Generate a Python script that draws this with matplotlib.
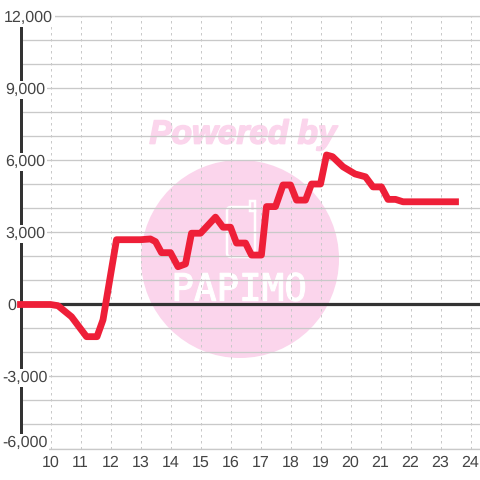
import matplotlib
matplotlib.use("Agg")
import matplotlib.pyplot as plt
import matplotlib.patheffects as pe
from matplotlib.patches import Circle, FancyBboxPatch, Rectangle

# Values (hour of day, balance)
hours = [9, 10, 10.25, 10.7, 11.2, 11.55, 11.75, 12.2, 12.5, 13, 13.33, 13.5, 13.7, 14,
         14.25, 14.5, 14.7, 15, 15.5, 15.75, 16, 16.2, 16.5, 16.7, 17.03, 17.2, 17.5,
         17.75, 18, 18.2, 18.5, 18.7, 19, 19.2, 19.4, 19.75, 20.15, 20.5, 20.75, 21.03,
         21.25, 21.5, 21.75, 23.5]
balance = [0, 0, -50, -510, -1340, -1340, -640, 2700, 2700, 2700, 2730, 2620, 2160, 2160,
           1575, 1690, 2970, 2970, 3640, 3220, 3220, 2560, 2560, 2060, 2060, 4080, 4080,
           4980, 4980, 4350, 4350, 5020, 5020, 6230, 6160, 5740, 5440, 5320, 4900, 4900,
           4380, 4380, 4280, 4280]

x_ticks = list(range(10, 25))
y_grid = list(range(-6000, 12001, 1000))
y_labels = [12000, 9000, 6000, 3000, 0, -3000, -6000]
# left edge of each y label in px, y offset in px (bottom label gets pushed up)
y_label_left = {12000: 4, 9000: 5, 6000: 5, 3000: 5, 0: 7, -3000: 2, -6000: 2}
y_label_shift = {-6000: 7}

FONT = "Liberation Sans"
TEXT = "#444444"
DARK = "#333333"
GRID = "#c9c9c9"
PINK = "#fbd5ec"
RED = "#ee1f38"
PX = 72 / 100  # one pixel in points at dpi 100

plt.rcParams["text.hinting"] = "no_hinting"
plt.rcParams["text.hinting_factor"] = 1

fig = plt.figure(figsize=(4.8, 4.8), dpi=100, facecolor="white")

# Watermark sits under everything, laid out in pixel coordinates
bg = fig.add_axes([0, 0, 1, 1])
bg.set_xlim(0, 480)
bg.set_ylim(480, 0)
bg.axis("off")
bg.add_patch(Circle((240, 259), 99, color=PINK, lw=0))
bg.text(242, 135, "Powered by", color=PINK, fontsize=24, fontweight="bold",
        fontstyle="italic", family=FONT, ha="center", va="center",
        path_effects=[pe.withStroke(linewidth=1.2, foreground=PINK)])
bg.add_patch(FancyBboxPatch((227, 207), 28, 50, boxstyle="round,pad=0,rounding_size=4",
                            fc="none", ec="white", lw=2.5 * PX))
bg.add_patch(Rectangle((250, 201), 5, 10, fc=PINK, ec="white", lw=2.5 * PX))
bg.text(240, 290, "PAPIMO", color="white", fontsize=27, family="DejaVu Sans Mono",
        ha="center", va="center",
        path_effects=[pe.withStroke(linewidth=0.8, foreground="white")])

# Plot region: x=10 at px 50.5, 30 px per hour; 3000 = 72 px
ax = fig.add_axes([20.5 / 480, 1 - 448.5 / 480, 459.5 / 480, 432 / 480])
ax.patch.set_alpha(0)
ax.set_xlim(9, 10 + (480 - 50.5) / 30)
ax.set_ylim(-6000, 12000)

ax.set_xticks(x_ticks)
ax.set_yticks(y_grid)
ax.grid(True, axis="y", color=GRID, linewidth=1.3 * PX, zorder=1)
ax.grid(True, axis="x", color=GRID, linewidth=1 * PX, linestyle=(0, (2.5, 3.5)), zorder=1)
ax.set_axisbelow(True)
ax.tick_params(length=0, labelleft=False, labelbottom=False)

for s in ["top", "right", "bottom"]:
    ax.spines[s].set_visible(False)
ax.spines["left"].set_linewidth(3 * PX)
ax.spines["left"].set_color(DARK)
ax.spines["left"].set_bounds(-5437, 11687)
ax.spines["left"].set_zorder(2)

# edge gridlines get clipped at the axes edge, redraw them
ax.axhline(-6000, color=GRID, linewidth=1.3 * PX, zorder=1, clip_on=False)
ax.axhline(12000, color=GRID, linewidth=1.3 * PX, zorder=1, clip_on=False)
ax.axhline(0, color=DARK, linewidth=3.2 * PX, zorder=3)

ax.plot(hours, balance, color=RED, linewidth=6.8 * PX, solid_joinstyle="round",
        solid_capstyle="projecting", zorder=5, clip_on=False)

for v in y_labels:
    ax.annotate(f"{v:,}", xy=(0, v), xycoords=("figure pixels", "data"),
                xytext=(y_label_left[v], y_label_shift.get(v, 0)), textcoords="offset pixels",
                ha="left", va="center_baseline", fontsize=11.6, family=FONT, color=TEXT,
                zorder=4, annotation_clip=False,
                bbox=dict(fc="white", ec="none", pad=1.2))

for h in x_ticks:
    ax.annotate(str(h), xy=(h, 0), xycoords=("data", "figure pixels"),
                xytext=(0, 480 - 461), textcoords="offset pixels",
                ha="center", va="center_baseline", fontsize=11.6, family=FONT, color=TEXT,
                annotation_clip=False)

fig.savefig("out.png", dpi=100, facecolor="white")
